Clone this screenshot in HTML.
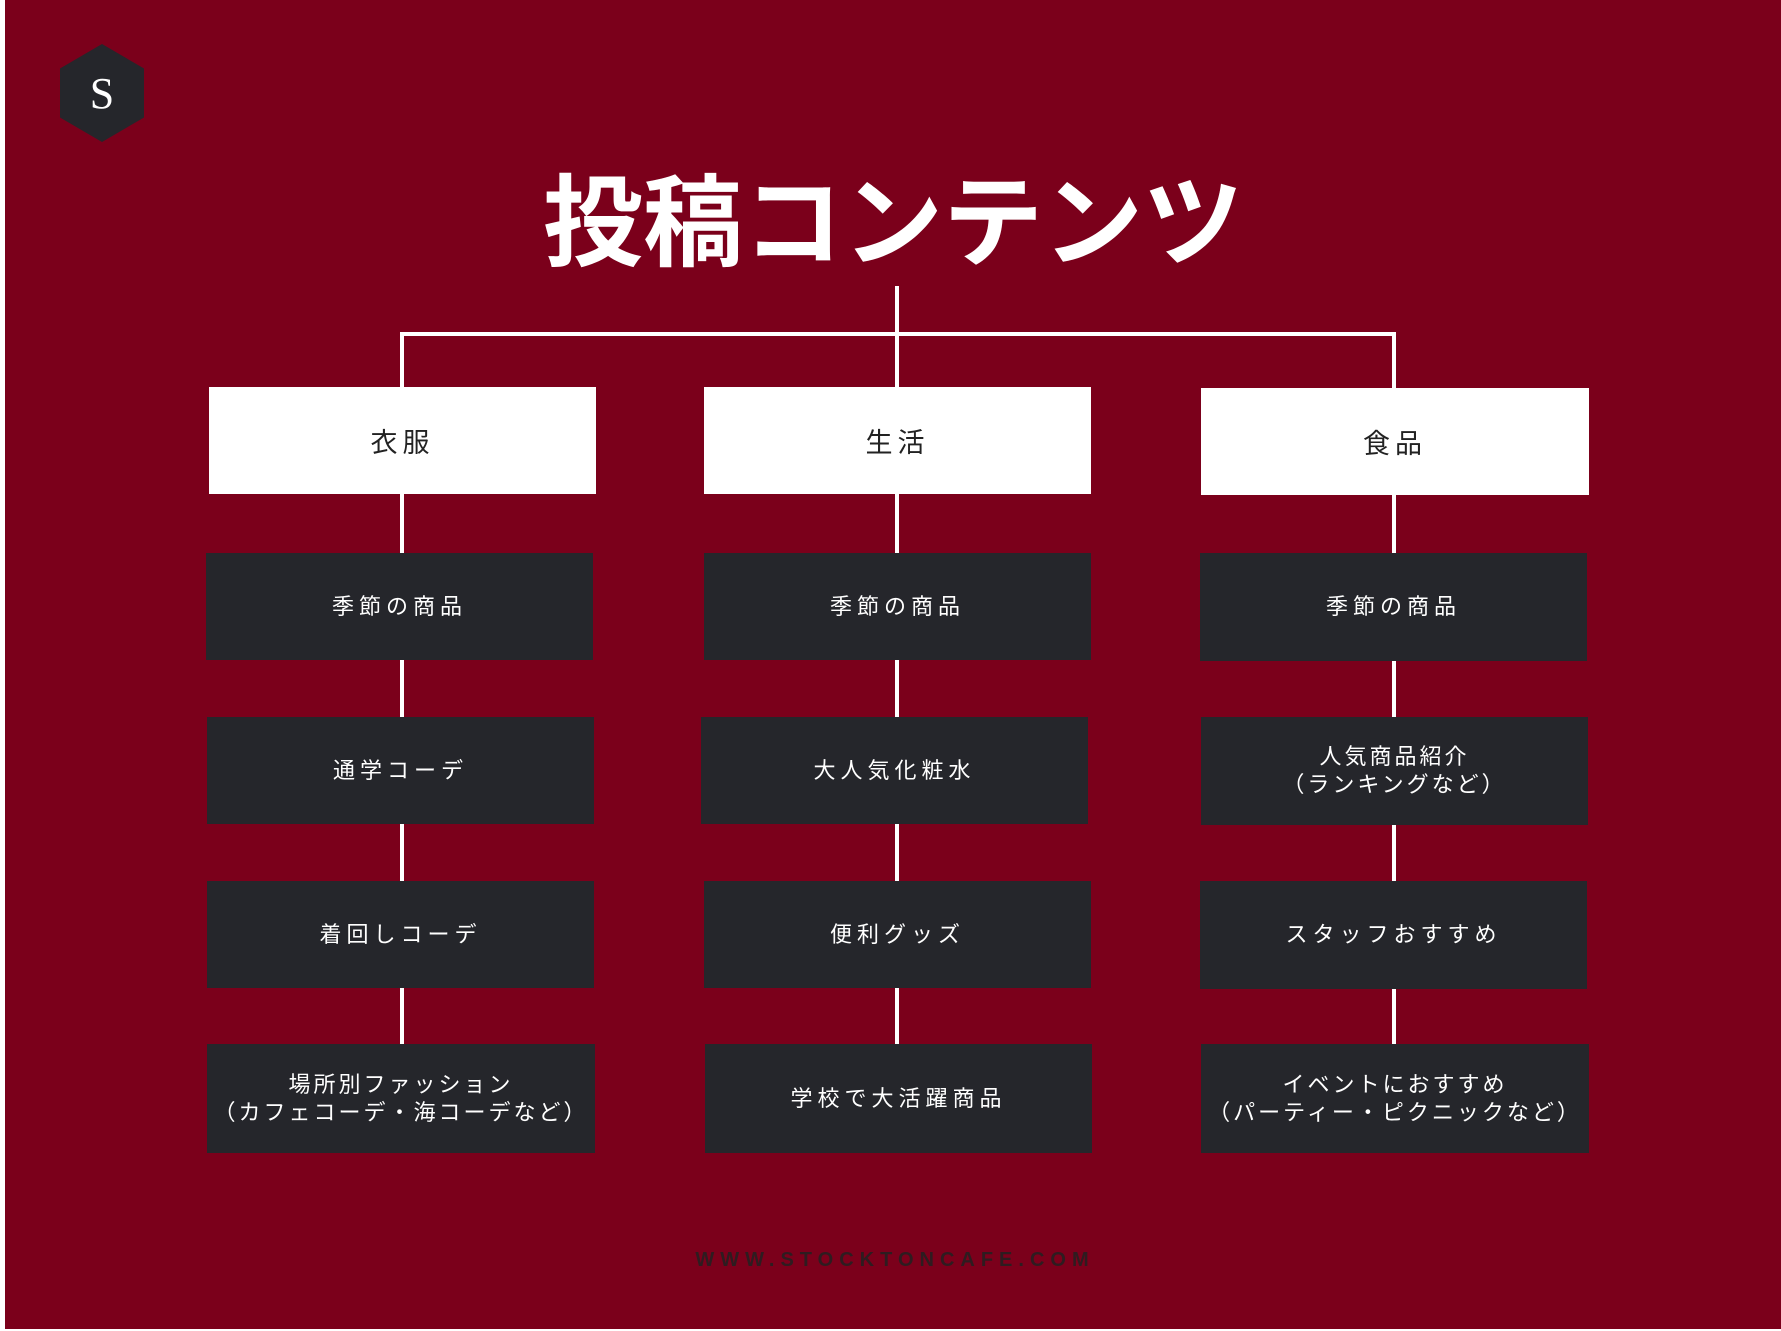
<!DOCTYPE html>
<html><head><meta charset="utf-8"><style>
*{margin:0;padding:0;box-sizing:border-box}
body{width:1781px;height:1331px;background:#fff;position:relative;overflow:hidden;font-family:"Liberation Sans","Noto Sans CJK JP",sans-serif}
#bg{position:absolute;left:5px;top:0;width:1776px;height:1329px;background:#7b001b}
.l{position:absolute;background:#fff}
.b{position:absolute;display:flex;align-items:center;justify-content:center;text-align:center;white-space:nowrap}
.w{background:#fff;color:#222;font-size:27px;letter-spacing:5px}
.d{background:#25262b;color:#fff;font-size:22px;letter-spacing:5px;line-height:28px}
.t{letter-spacing:3px}
</style></head><body>
<div id="bg"></div>
<svg style="position:absolute;left:60px;top:44px" width="84" height="98"><polygon points="42,0 84,24.5 84,73.5 42,98 0,73.5 0,24.5" fill="#25262b"/><text x="42" y="64" text-anchor="middle" fill="#fff" font-family="Liberation Serif,serif" font-size="44">S</text></svg>
<div class="b" style="left:493px;top:156px;width:800px;height:116px;color:#fff;font-size:100px;font-weight:bold;font-family:'Noto Sans CJK JP',sans-serif">投稿コンテンツ</div>
<div class="l" style="left:895px;top:286px;width:4px;height:760px"></div>
<div class="l" style="left:400px;top:332px;width:996px;height:4px"></div>
<div class="l" style="left:400px;top:332px;width:4px;height:714px"></div>
<div class="l" style="left:1392px;top:332px;width:4px;height:714px"></div>

<div class="b w" style="left:209px;top:387px;width:387px;height:107px">衣服</div>
<div class="b w" style="left:704px;top:387px;width:387px;height:107px">生活</div>
<div class="b w" style="left:1201px;top:388px;width:388px;height:107px">食品</div>

<div class="b d" style="left:206px;top:553px;width:387px;height:107px">季節の商品</div>
<div class="b d" style="left:704px;top:553px;width:387px;height:107px">季節の商品</div>
<div class="b d" style="left:1200px;top:553px;width:387px;height:108px">季節の商品</div>

<div class="b d" style="left:207px;top:717px;width:387px;height:107px">通学コーデ</div>
<div class="b d" style="left:701px;top:717px;width:387px;height:107px">大人気化粧水</div>
<div class="b d t" style="left:1201px;top:717px;width:387px;height:108px">人気商品紹介<br>（ランキングなど）</div>

<div class="b d" style="left:207px;top:881px;width:387px;height:107px">着回しコーデ</div>
<div class="b d" style="left:704px;top:881px;width:387px;height:107px">便利グッズ</div>
<div class="b d" style="left:1200px;top:881px;width:387px;height:108px">スタッフおすすめ</div>

<div class="b d t" style="left:207px;top:1044px;width:388px;height:109px">場所別ファッション<br>（カフェコーデ・海コーデなど）</div>
<div class="b d" style="left:705px;top:1044px;width:387px;height:109px">学校で大活躍商品</div>
<div class="b d t" style="left:1201px;top:1044px;width:388px;height:109px">イベントにおすすめ<br>（パーティー・ピクニックなど）</div>

<div class="b" style="left:590px;top:1245px;width:610px;height:30px;color:#2e1c20;font-size:20px;font-weight:bold;letter-spacing:6px">WWW.STOCKTONCAFE.COM</div>
</body></html>
